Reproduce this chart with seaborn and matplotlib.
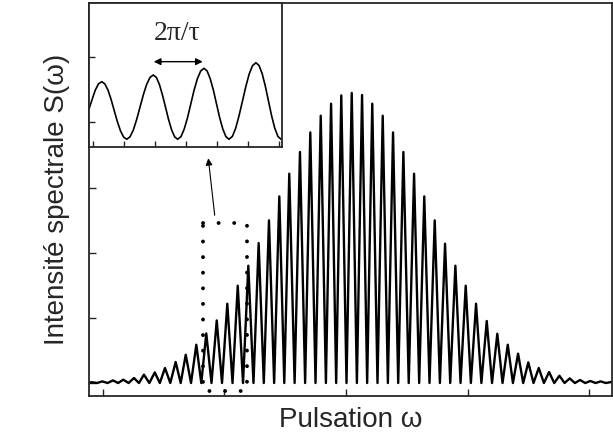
import numpy as np
import pandas as pd
import seaborn as sns
import matplotlib.pyplot as plt

# Sommets des franges (position en pulsation, hauteur en unités arbitraires)
omega_pics = [-0.091, -0.006, 0.082, 0.167, 0.255, 0.337, 0.426, 0.510, 0.598, 0.681,
              0.768, 0.850, 0.936, 1.023, 1.109, 1.196, 1.281, 1.366, 1.451, 1.533,
              1.621, 1.706, 1.792, 1.877, 1.961, 2.047, 2.132, 2.216, 2.302, 2.387,
              2.472, 2.560, 2.644, 2.730, 2.815, 2.900, 2.985, 3.070, 3.158, 3.245,
              3.331, 3.416, 3.500, 3.586, 3.671, 3.756, 3.841, 3.926, 4.011, 4.096,
              4.181]
hauteur_pics = [0.012, 0.025, 0.040, 0.051, 0.077, 0.128, 0.163, 0.231, 0.323, 0.435,
                0.589, 0.763, 0.963, 1.220, 1.497, 1.805, 2.154, 2.502, 2.871, 3.220,
                3.554, 3.855, 4.112, 4.297, 4.425, 4.462, 4.431, 4.297, 4.112, 3.855,
                3.554, 3.220, 2.871, 2.502, 2.143, 1.805, 1.497, 1.220, 0.954, 0.758,
                0.589, 0.451, 0.317, 0.231, 0.169, 0.112, 0.071, 0.046, 0.031, 0.025,
                0.015]
niveau_creux = 0.0

# Zoom (encart) : quelques franges
omega_zoom = [0.000, 0.100, 0.203, 0.306, 0.410, 0.510, 0.613, 0.713, 0.813, 0.913,
              1.016, 1.116, 1.216, 1.323, 1.431, 1.539, 1.645, 1.752, 1.860, 1.968,
              2.074, 2.173, 2.271, 2.369, 2.468, 2.566, 2.665, 2.763, 2.861, 2.968,
              3.074, 3.181, 3.285, 3.390, 3.497, 3.603, 3.710, 3.810, 3.911, 4.013,
              4.113, 4.213, 4.315, 4.416, 4.516, 4.626, 4.734, 4.842, 4.952, 5.061,
              5.169, 5.277, 5.387, 5.487, 5.589, 5.690, 5.790, 5.890, 5.992, 6.094,
              6.194]
s_zoom = [0.200, 0.346, 0.491, 0.586, 0.620, 0.586, 0.491, 0.346, 0.177, 0.008,
          -0.137, -0.232, -0.266, -0.229, -0.122, 0.040, 0.228, 0.417, 0.578, 0.686,
          0.723, 0.686, 0.578, 0.417, 0.228, 0.040, -0.122, -0.229, -0.266, -0.225,
          -0.106, 0.071, 0.280, 0.489, 0.666, 0.785, 0.826, 0.785, 0.666, 0.489,
          0.280, 0.071, -0.106, -0.225, -0.266, -0.222, -0.094, 0.098, 0.323, 0.548,
          0.740, 0.868, 0.912, 0.868, 0.740, 0.548, 0.323, 0.098, -0.094, -0.222,
          -0.266]

# courbe principale : creux - sommet - creux ...
om = np.array(omega_pics)
creux = (om[:-1] + om[1:]) / 2
xs, ys = [om[0] - (om[1] - om[0]) / 2], [niveau_creux]
for i in range(len(om)):
    xs.append(om[i]); ys.append(hauteur_pics[i])
    if i < len(creux):
        xs.append(creux[i]); ys.append(niveau_creux)
xs.append(om[-1] + (om[-1] - om[-2]) / 2); ys.append(niveau_creux)
df = pd.DataFrame({"omega": xs, "S": ys})
df_zoom = pd.DataFrame({"omega": omega_zoom, "S": s_zoom})

sns.set_style("ticks")
plt.rcParams["font.family"] = ["Liberation Sans", "DejaVu Sans"]

fig = plt.figure(figsize=(6.13, 4.41), dpi=100)
ax = fig.add_axes([0.1452, 0.102, 0.8532, 0.8912])
sns.lineplot(data=df, x="omega", y="S", sort=False, color="black", linewidth=1.7, ax=ax)
ax.set_xlim(-0.115, 4.189)
ax.set_ylim(-0.2, 5.846)
ax.set_xticks([0, 1, 2, 3, 4])
ax.set_yticks([0, 1, 2, 3, 4, 5])
ax.tick_params(direction="in", length=5, width=1, labelbottom=False, labelleft=False)
for sp in ax.spines.values():
    sp.set_visible(True)
    sp.set_linewidth(1.3)
ax.set_xlabel("Pulsation ω", fontsize=20, labelpad=8)
ax.set_ylabel("Intensité spectrale S(ω)", fontsize=20, labelpad=14)

# rectangle pointillé
rx = [0.823, 1.183, 1.183, 0.823, 0.823]
ry = [2.466, 2.466, -0.118, -0.118, 2.466]
ax.plot(rx, ry, color="black", linewidth=2.8, linestyle=(0, (0.01, 4.0)),
        dash_capstyle="round", solid_capstyle="round")
ax.annotate("", xy=(0.864, 3.50), xytext=(0.922, 2.538),
            arrowprops=dict(arrowstyle="-|>", color="black", lw=0.8, mutation_scale=10))

# encart
axi = fig.add_axes([0.1452, 0.6667, 0.3148, 0.3265])
sns.lineplot(data=df_zoom, x="omega", y="S", sort=False, color="black", linewidth=1.2, ax=axi)
axi.set_xlim(0, 6.226)
axi.set_ylim(-0.385, 1.831)
axi.set_xticks(np.arange(0.12, 6.2, 1.0))
axi.set_yticks([0, 1])
axi.tick_params(direction="in", length=4, width=1, labelbottom=False, labelleft=False)
axi.set_xlabel("")
axi.set_ylabel("")
for sp in axi.spines.values():
    sp.set_visible(True)
    sp.set_linewidth(1.3)
axi.annotate("", xy=(2.0, 0.928), xytext=(3.76, 0.928),
             arrowprops=dict(arrowstyle="<|-|>", color="black", lw=1.0, mutation_scale=10))
axi.text(2.85, 1.36, "2π/τ", fontsize=20, family=["Liberation Serif", "DejaVu Serif"],
         ha="center", va="center")

fig.savefig("out.png", dpi=100)
